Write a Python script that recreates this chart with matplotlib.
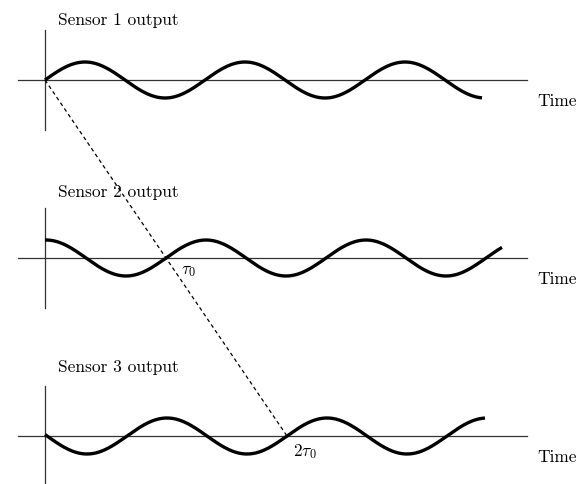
import numpy as np
import matplotlib
matplotlib.use('Agg')
import matplotlib.pyplot as plt

# sensor waveforms: same sinusoid, each sensor delayed by tau0
labels = ['Sensor 1 output', 'Sensor 2 output', 'Sensor 3 output']
period = 160.0
tau0 = 121.0
amplitude = 18.0
delays = [0.0, tau0, 2 * tau0]
t_end = [437.0, 457.0, 440.0]
delay_labels = [None, r'$\tau_0$', r'$2\tau_0$']

# layout (figure is drawn in pixel-like units, t=0 at x=45px)
baselines = [81, 259, 437]
label_rows = [25, 197, 372]
delay_label_dx = [0, 15, 6]
delay_label_dy = [0, 11, 15]

plt.rcParams['mathtext.fontset'] = 'cm'
fig = plt.figure(figsize=(5.86, 4.85), dpi=100)
ax = fig.add_axes([0, 0, 1, 1])
ax.set_xlim(-45, 541)
ax.set_ylim(485, 0)
ax.axis('off')

for i in range(3):
    y0 = baselines[i]
    # axes
    ax.plot([-27, 482], [y0, y0], color='#333333', lw=0.9)
    ax.plot([0, 0], [y0 - 50, y0 + 50], color='#333333', lw=0.9)
    # wave
    t = np.linspace(0, t_end[i], 600)
    s = np.sin(2 * np.pi * (t - delays[i]) / period)
    ax.plot(t, y0 - amplitude * s, color='black', lw=2.4, solid_capstyle='butt')
    ax.text(13, label_rows[i], labels[i], family='cmr10', fontsize=12.5,
            va='baseline', ha='left')
    ax.text(492, y0 + 20, 'Time', family='cmr10', fontsize=12.5,
            va='center', ha='left')
    if delay_labels[i]:
        ax.text(delays[i] + delay_label_dx[i], y0 + delay_label_dy[i],
                delay_labels[i], fontsize=12.5, va='center', ha='left')

# dashed delay line through the zero crossings
ax.plot([delays[0], delays[2]], [baselines[0], baselines[2]], color='black',
        lw=0.9, linestyle=(0, (3, 2.5)))

fig.savefig('out.png', dpi=100)
